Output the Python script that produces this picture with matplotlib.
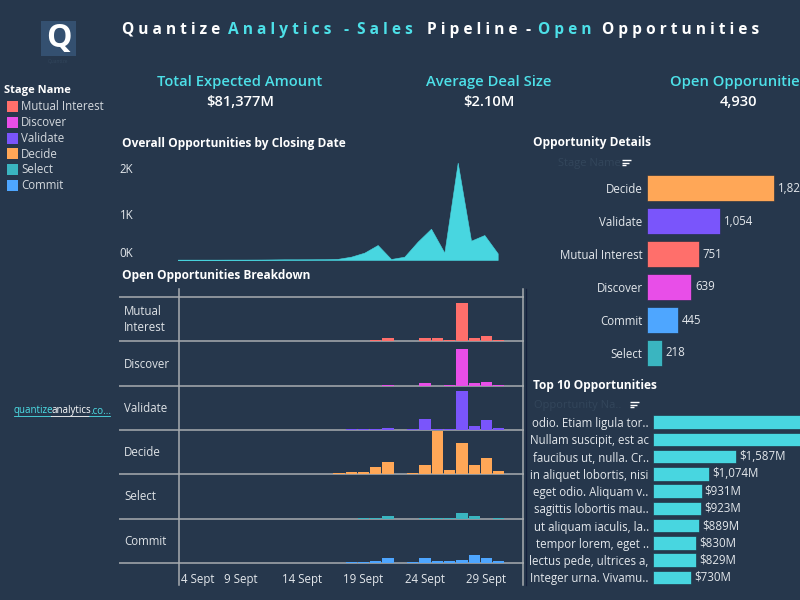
import matplotlib
matplotlib.use("Agg")
import matplotlib.pyplot as plt
from matplotlib.patches import Rectangle
from matplotlib.transforms import ScaledTranslation

plt.rcParams['font.family'] = ['Open Sans', 'DejaVu Sans']

BG = '#26374c'
CYAN = '#4de0e8'
AREA = '#48d6e0'
TXT = '#e4e8ec'
GRID = '#a8acb0'

stage_names = ['Mutual Interest', 'Discover', 'Validate', 'Decide', 'Select', 'Commit']
stage_colors = ['#ff6f6b', '#e84ee8', '#7a55fb', '#ffa757', '#3ab5c0', '#4ea6ff']

area_days = list(range(6, 31))
area_values = [8, 8, 8, 8, 9, 9, 10, 12, 15, 15, 16, 18, 25, 72, 160, 326, 22, 72, 400, 680, 160, 2116, 420, 543, 145]

bar_days = list(range(17, 31))
mutual_values = [0, 0, 0, 18, 40, 0, 0, 40, 40, 15, 515, 40, 68, 20]
discover_values = [0, 0, 0, 0, 15, 0, 0, 40, 0, 15, 503, 40, 55, 15]
validate_values = [0, 8, 8, 18, 30, 0, 18, 150, 15, 18, 530, 60, 140, 30]
decide_values = [15, 25, 25, 90, 160, 0, 15, 118, 585, 50, 420, 118, 213, 40]
select_values = [0, 0, 10, 10, 40, 0, 0, 10, 10, 10, 72, 40, 0, 10]
commit_values = [0, 13, 13, 22, 63, 0, 13, 63, 22, 22, 40, 105, 63, 30]
breakdown_values = [mutual_values, discover_values, validate_values, decide_values, select_values, commit_values]
row_labels = ['Mutual\nInterest', 'Discover', 'Validate', 'Decide', 'Select', 'Commit']
tick_days = [4, 9, 14, 19, 24, 29]
tick_labels = ['4 Sept', '9 Sept', '14 Sept', '19 Sept', '24 Sept', '29 Sept']

detail_names = ['Decide', 'Validate', 'Mutual Interest', 'Discover', 'Commit', 'Select']
detail_values = [1823, 1054, 751, 639, 445, 218]
detail_colors = ['#ffa757', '#7a55fb', '#ff6f6b', '#e84ee8', '#4ea6ff', '#3ab5c0']

top_names = ['odio. Etiam ligula tor..', 'Nullam suscipit, est ac', 'faucibus ut, nulla. Cr..',
             'in aliquet lobortis, nisi', 'eget odio. Aliquam v..', 'sagittis lobortis mau..',
             'ut aliquam iaculis, la..', 'tempor lorem, eget ..', 'lectus pede, ultrices a,',
             'Integer urna. Vivamu..']
top_values = [3100, 2950, 1587, 1074, 931, 923, 889, 830, 829, 730]
top_labels = ['', '', '$1,587M', '$1,074M', '$931M', '$923M', '$889M', '$830M', '$829M', '$730M']

title_parts = [('Q u a n t i z e', 122, 'w'), ('A n a l y t i c s', 228, 'c'), ('-', 344, 'c'),
               ('S a l e s', 357, 'c'), ('P i p e l i n e', 427, 'w'), ('-', 525, 'w'),
               ('O p e n', 538, 'c'), ('O p p o r t u n i t i e s', 602, 'w')]
kpi_titles = ['Total Expected Amount', 'Average Deal Size', 'Open Opporunities']
kpi_values = ['$81,377M', '$2.10M', '4,930']
kpi_centers = [240, 489, 739]

W, H = 800, 600
fig = plt.figure(figsize=(8, 6), dpi=100, facecolor=BG)


def px_axes(l, t, r, b):
    ax = fig.add_axes([l / W, 1 - b / H, (r - l) / W, (b - t) / H])
    ax.set_facecolor('none')
    for s in ax.spines.values():
        s.set_visible(False)
    ax.tick_params(length=0, colors=TXT, labelsize=8.3)
    return ax


# Area chart
ax = px_axes(177.7, 150, 497.7, 260)
ax.fill_between(area_days, area_values, 0, color=AREA, lw=0.4)
ax.set_xlim(6, 30)
ax.set_ylim(0, 110 / 46 * 1000)
ax.set_xticks([])
ax.set_yticks([0, 1000, 2000])
ax.set_yticklabels(['0K', '1K', '2K'], color=TXT, fontsize=8.3)
ax.tick_params(axis='y', pad=32)
ax.get_yticklabels()[0].set_va('bottom')

# Breakdown rows
row_bottoms = [341, 386, 430, 474, 518.5, 563]
row_h = 44.3
for i, (vals, col, bot) in enumerate(zip(breakdown_values, stage_colors, row_bottoms)):
    ax = px_axes(179, bot - row_h, 523, bot)
    ax.bar(bar_days, vals, width=0.92, color=col, linewidth=0)
    ax.set_xlim(4, 4 + 344 / 12.3)
    ax.set_ylim(0, 602)
    ax.set_yticks([])
    if i == len(breakdown_values) - 1:
        ax.set_xticks(tick_days)
        ax.set_xticklabels(tick_labels, color=TXT, fontsize=8.3)
        ax.tick_params(axis='x', pad=7)
        first = ax.get_xticklabels()[0]
        first.set_ha('left')
        first.set_transform(first.get_transform() + ScaledTranslation(2 / 100, 0, fig.dpi_scale_trans))
    else:
        ax.set_xticks([])

# Opportunity details
ax = px_axes(646.7, 171.5, 800, 369.5)
ypos = list(range(len(detail_names)))
ax.barh(ypos, detail_values, height=0.78, color=detail_colors, edgecolor='#1c2a3c', linewidth=0.4)
ax.set_xlim(0, 153.3 / 127.3 * 1823)
ax.set_ylim(len(detail_names) - 0.5, -0.5)
ax.set_xticks([])
ax.set_yticks(ypos)
ax.set_yticklabels(detail_names, color=TXT, fontsize=8.3)
ax.tick_params(axis='y', pad=3)
for y, v in zip(ypos, detail_values):
    ax.annotate(f'{v:,}', (v, y), xytext=(2.6, 0), textcoords='offset points', va='center',
                color=TXT, fontsize=8.3, annotation_clip=False)

# Top 10
ax = px_axes(653, 413.4, 800, 586)
ypos = list(range(len(top_names)))
ax.barh(ypos, top_values, height=0.78, color=AREA, edgecolor='#1c2a3c', linewidth=0.4)
ax.set_xlim(0, 147 / 83 * 1587)
ax.set_ylim(len(top_names) - 0.5, -0.5)
ax.set_xticks([])
ax.set_yticks(ypos)
ax.set_yticklabels(top_names, color=TXT, fontsize=8.3)
ax.tick_params(axis='y', pad=3)
for y, v, lab in zip(ypos, top_values, top_labels):
    if lab:
        ax.annotate(lab, (v, y), xytext=(2.2, 0), textcoords='offset points', va='center',
                    color=TXT, fontsize=8.3, annotation_clip=False)

# Layer in pixel coordinates, drawn beneath the bars
ov = fig.add_axes([0, 0, 1, 1], zorder=-1)
ov.set_xlim(0, W)
ov.set_ylim(H, 0)
ov.axis('off')

for y in [297] + row_bottoms:
    ov.plot([119, 524], [y, y], color=GRID, lw=1.1, solid_capstyle='butt')
ov.plot([179, 179], [289, 585], color=GRID, lw=1.1)
ov.plot([523, 523], [289, 585], color=GRID, lw=1.1)
ov.plot([526, 526], [289, 585], color='#141f3c', lw=0.9)

for txt, x, c in title_parts:
    ov.text(x, 30, txt, color='white' if c == 'w' else CYAN, fontsize=11.2, fontweight='bold',
            va='center', ha='left')

for t, v, x in zip(kpi_titles, kpi_values, kpi_centers):
    ov.text(x, 82, t, color=CYAN, fontsize=10.6, fontweight='semibold', ha='center', va='center')
    ov.text(x, 102, v, color='white', fontsize=10.6, fontweight='semibold', ha='center', va='center')

for t, x, y in [('Overall Opportunities by Closing Date', 122, 144),
                ('Open Opportunities Breakdown', 122, 275.5),
                ('Opportunity Details', 533, 142.5),
                ('Top 10 Opportunities', 533, 385)]:
    ov.text(x, y, t, color='white', fontsize=8.6, fontweight='bold', ha='left', va='center')

# Logo
ov.add_patch(Rectangle((41, 21), 35, 35, color='#345070', lw=0))
ov.text(58.5, 38, 'Q', color='white', fontsize=23, fontweight='bold', ha='center', va='center')
ov.text(58.5, 62, 'Quantize', color='#32465c', fontsize=3.5, ha='center', va='center')

# Legend
ov.text(4.5, 91, 'Stage Name', color='white', fontsize=8, fontweight='bold', ha='left', va='center')
for name, col, y in zip(stage_names, stage_colors, [106, 122, 138, 153.5, 169, 185]):
    ov.add_patch(Rectangle((6.5, y - 5.5), 11, 11, color=col, lw=0))
    ov.text(21, y + 0.5, name, color='#d4d9de', fontsize=8.3, ha='left', va='center')

# Row labels
for lab, bot in zip(row_labels, row_bottoms):
    ov.text(124, bot - 21.5, lab, color='#dfe3e7', fontsize=8.3, ha='left', va='center', linespacing=1.25)

# Faint field headers and sort icons
ov.text(621, 163.5, 'Stage Name', color='#33465b', fontsize=8, ha='right', va='center')
ov.text(621, 405.5, 'Opportunity Na..', color='#33465b', fontsize=8, ha='right', va='center')
for ix, iy in [(622, 160), (630, 402)]:
    for k, ln in enumerate([9, 7, 4]):
        ov.plot([ix, ix + ln], [iy + k * 2.5, iy + k * 2.5], color='white', lw=1.0, solid_capstyle='butt')

# Link
ov.text(14, 411, 'quantize', color=CYAN, fontsize=7, ha='left', va='center')
ov.text(51, 411, 'analytics', color='white', fontsize=7, ha='left', va='center')
ov.text(90, 411, '.co...', color=CYAN, fontsize=7, ha='left', va='center')
ov.plot([14, 51], [416, 416], color=CYAN, lw=0.6)
ov.plot([51, 89], [416, 416], color='white', lw=0.6)
ov.plot([89, 110], [416, 416], color=CYAN, lw=0.6)

fig.savefig('out.png', dpi=100, facecolor=BG)
